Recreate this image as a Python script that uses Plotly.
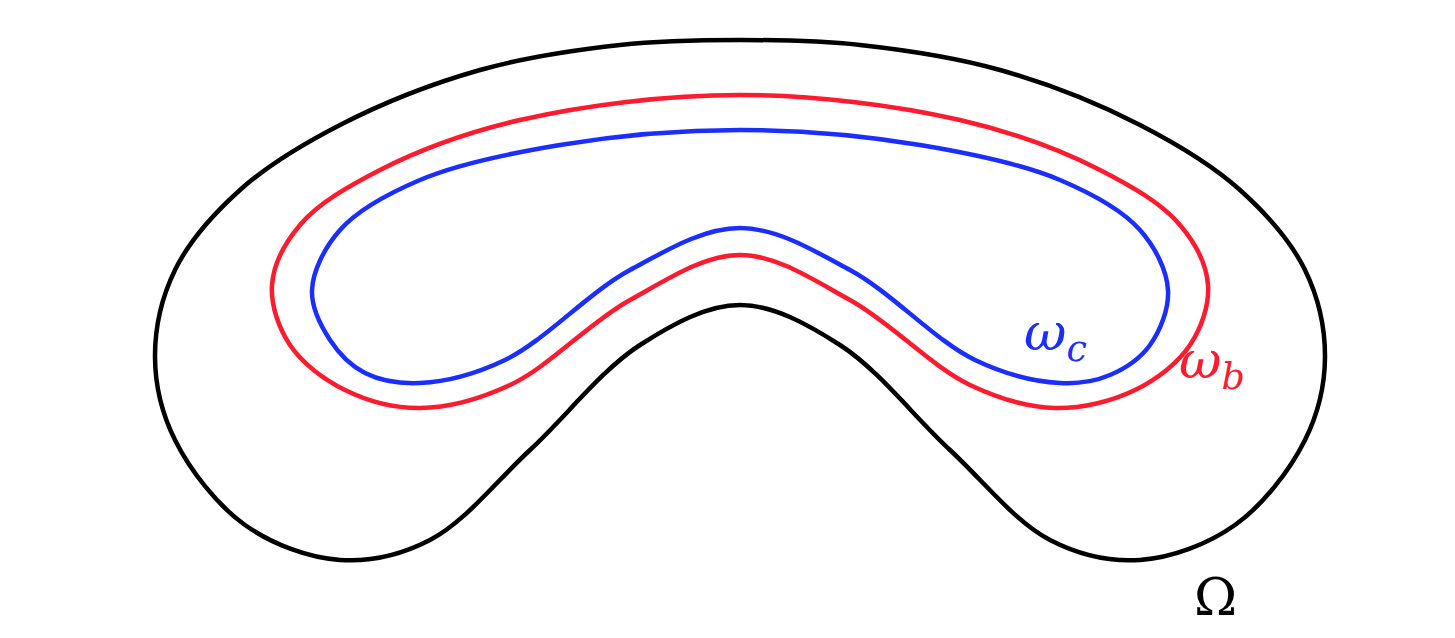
import plotly.graph_objects as go

# outline points (pixel coordinates, y down)
omega_x = [155, 175, 240, 340, 480, 620, 740, 860, 1000, 1140, 1240, 1305, 1325, 1305, 1235, 1140, 1050, 950, 840, 740, 640, 530, 430, 340, 245, 175, 155]
omega_y = [357, 270, 190, 125, 70, 45, 40, 45, 70, 125, 190, 270, 357, 440, 525, 560, 540, 450, 345, 305, 345, 450, 540, 560, 525, 440, 357]

wb_x = [272, 300, 380, 520, 740, 960, 1100, 1180, 1208, 1190, 1135, 1055, 970, 850, 740, 630, 510, 420, 345, 290, 272]
wb_y = [285, 225, 170, 120, 95, 120, 170, 225, 285, 345, 390, 408, 385, 300, 255, 300, 385, 408, 390, 345, 285]

wc_x = [312, 340, 420, 560, 740, 920, 1060, 1140, 1168, 1150, 1110, 1060, 975, 850, 740, 630, 505, 420, 365, 330, 312]
wc_y = [290, 230, 180, 145, 130, 145, 180, 230, 290, 345, 375, 383, 360, 270, 228, 270, 360, 383, 373, 340, 290]

fig = go.Figure()
for xs, ys, col in [(omega_x, omega_y, "black"), (wb_x, wb_y, "#ff1a2e"), (wc_x, wc_y, "#1a2eff")]:
    fig.add_scatter(x=xs, y=ys, mode="lines", line=dict(color=col, width=4.5, shape="spline", smoothing=1.0),
                    showlegend=False, hoverinfo="skip")

fig.add_annotation(x=1055, y=336, text="<i>ω<sub>c</sub></i>", showarrow=False,
                   font=dict(size=52, color="#1a2eff", family="DejaVu Serif"))
fig.add_annotation(x=1212, y=364, text="<i>ω<sub>b</sub></i>", showarrow=False,
                   font=dict(size=52, color="#ff1a2e", family="DejaVu Serif"))
fig.add_annotation(x=1215, y=597, text="Ω", showarrow=False,
                   font=dict(size=52, color="black", family="DejaVu Serif"))

# page body has an 8px margin, so shift the ranges to line up with the reference
fig.update_xaxes(range=[8, 1463], visible=False)
fig.update_yaxes(range=[646, 8], visible=False)
fig.update_layout(width=1455, height=638, margin=dict(l=0, r=0, t=0, b=0),
                  plot_bgcolor="white", paper_bgcolor="white")
fig.write_html("out.html")
